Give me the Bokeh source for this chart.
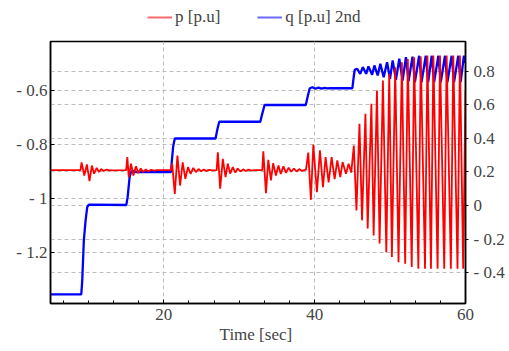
from bokeh.plotting import figure
from bokeh.layouts import column
from bokeh.models import Range1d, LinearAxis, FixedTicker, Grid, Legend, LegendItem
from bokeh.embed import file_html
from bokeh.resources import INLINE

# ---- data ----
time_p = [5.0, 8.95, 9.09, 9.45, 9.80, 10.14, 10.45, 10.75, 11.10, 11.40, 11.70, 12.00, 12.40, 12.80,
          15.00, 15.16, 15.35, 15.65, 15.96, 16.31, 16.62, 16.93, 17.25, 17.60, 17.90, 18.30, 18.70, 19.10,
          20.90, 21.10, 21.45, 21.80, 22.15, 22.50, 22.85, 23.20, 23.55, 23.90, 24.25, 24.60, 24.95, 25.30,
          25.65, 26.00, 26.40,
          27.00, 27.16, 27.47, 27.82, 28.18, 28.48, 28.80, 29.14, 29.48, 29.80, 30.15, 30.50, 30.85, 31.20,
          31.60, 32.00,
          33.05, 33.19, 33.54, 33.85, 34.20, 34.50, 34.86, 35.20, 35.50, 35.85, 36.20, 36.55, 36.90, 37.25,
          37.60, 37.95, 38.30,
          38.85, 39.15, 39.50, 39.82, 40.30, 40.70, 41.10, 41.45, 41.85, 42.25, 42.65, 43.00, 43.40, 43.70,
          44.15, 44.50, 44.85,
          45.19, 45.54, 45.94, 46.28, 46.73, 47.03, 47.52, 47.82, 48.26, 48.61, 49.05, 49.50, 49.89, 50.24,
          50.68, 51.12, 51.56, 52.00, 52.35, 52.87, 53.19, 53.75, 54.07, 54.63, 54.95, 55.42, 55.74, 56.30,
          56.62, 57.18, 57.50, 58.06, 58.38, 58.94, 59.26, 59.69, 60.00]
p_vals = [-0.895, -0.895, -0.866, -0.915, -0.874, -0.936, -0.878, -0.908, -0.887, -0.902, -0.891, -0.898, -0.893, -0.896,
          -0.895, -0.847, -0.921, -0.871, -0.915, -0.881, -0.906, -0.889, -0.902, -0.892, -0.899, -0.894, -0.897, -0.895,
          -0.895, -0.870, -0.983, -0.841, -0.952, -0.866, -0.927, -0.884, -0.909, -0.887, -0.902, -0.891, -0.899, -0.893,
          -0.898, -0.894, -0.896,
          -0.895, -0.829, -0.964, -0.853, -0.921, -0.871, -0.908, -0.884, -0.904, -0.889, -0.900, -0.892, -0.898, -0.893,
          -0.897, -0.895,
          -0.895, -0.825, -0.980, -0.857, -0.933, -0.869, -0.915, -0.878, -0.909, -0.881, -0.905, -0.886, -0.901, -0.889,
          -0.900, -0.891, -0.898,
          -0.893, -0.830, -1.005, -0.800, -0.977, -0.822, -0.958, -0.847, -0.940, -0.847, -0.928, -0.859, -0.921, -0.865,
          -0.908, -0.871, -0.904,
          -0.804, -1.044, -0.723, -1.081, -0.686, -1.111, -0.649, -1.137, -0.600, -1.167, -0.563, -1.199, -0.538, -1.217,
          -0.514, -1.236, -0.495, -1.242, -0.483, -1.254, -0.477, -1.260, -0.474, -1.260, -0.470, -1.260, -0.470, -1.260,
          -0.470, -1.260, -0.470, -1.260, -0.470, -1.260, -0.470, -1.260, -0.600]

time_q = [5.0, 9.05, 9.18, 9.39, 9.62, 9.84, 10.05, 15.02, 15.20, 15.33, 15.46, 15.65, 15.90, 16.30,
          20.95, 21.05, 21.23, 21.45, 26.86, 27.12, 27.35, 32.79, 33.06, 33.36, 38.82, 39.12, 39.35,
          39.70, 40.10, 40.50, 40.90, 41.30, 41.70, 42.10, 45.00, 45.18, 45.31,
          45.64, 46.04, 46.38, 46.83, 47.13, 47.62, 47.92, 48.36, 48.71, 49.15, 49.60, 49.99, 50.34, 50.78,
          51.22, 51.66, 52.10, 52.45, 52.97, 53.29, 53.85, 54.17, 54.73, 55.05, 55.52, 55.84, 56.40, 56.72,
          57.28, 57.60, 58.16, 58.48, 59.04, 59.36, 59.79, 60.00]
q_vals = [-0.530, -0.530, -0.448, -0.209, -0.090, -0.010, 0.005, 0.003, 0.050, 0.110, 0.170, 0.200, 0.207, 0.200,
          0.200, 0.260, 0.350, 0.400, 0.400, 0.460, 0.500, 0.500, 0.550, 0.600, 0.600, 0.660, 0.700,
          0.706, 0.697, 0.704, 0.698, 0.702, 0.699, 0.701, 0.700, 0.770, 0.810,
          0.816, 0.786, 0.826, 0.786, 0.830, 0.780, 0.836, 0.776, 0.846, 0.766, 0.855, 0.756, 0.866, 0.750,
          0.876, 0.746, 0.885, 0.742, 0.889, 0.736, 0.894, 0.736, 0.894, 0.736, 0.894, 0.736, 0.894, 0.736,
          0.894, 0.736, 0.894, 0.736, 0.894, 0.736, 0.894, 0.850]

series_names = ["p [p.u]", "q [p.u] 2nd"]
x_ticks = [20, 40, 60]
x_minor = [6.667, 10, 13.333, 16.667, 23.333, 26.667, 30, 33.333, 36.667, 43.333, 46.667, 50, 53.333, 56.667]
left_ticks = [-1.2, -1.0, -0.8, -0.6]
left_labels = ["- 1.2", "- 1", "- 0.8", "- 0.6"]
right_ticks = [-0.4, -0.2, 0.0, 0.2, 0.4, 0.6, 0.8]
right_labels = ["- 0.4", "- 0.2", "0", "0.2", "0.4", "0.6", "0.8"]

FONT = "Liberation Serif"
GRID = "#bdbdbd"
RED = "#ff0000"
BLUE = "#0000ff"

# ---- legend strip above the chart (its lines lie outside its own view) ----
lf = figure(width=507, height=33, output_backend="svg", toolbar_location=None,
            x_axis_type=None, y_axis_type=None, min_border=0,
            x_range=Range1d(-2, -1), y_range=Range1d(-2, -1))
lf.outline_line_color = None
lf.xgrid.visible = False
lf.ygrid.visible = False
lp = lf.line(time_p, p_vals, color="#ff6a6a", line_width=2)
lq = lf.line(time_q, q_vals, color="#6a6aff", line_width=2)
legend = Legend(items=[LegendItem(label=series_names[0], renderers=[lp]),
                       LegendItem(label=series_names[1], renderers=[lq])],
                orientation="horizontal", location=(97, 6),
                label_text_font=FONT, label_text_font_size="17px",
                glyph_width=25, glyph_height=16, label_standoff=3, spacing=37,
                padding=0, margin=0, border_line_alpha=0, background_fill_alpha=0)
lf.add_layout(legend)

# ---- main chart ----
p = figure(width=507, height=317, x_range=Range1d(4.97, 60.0), y_range=Range1d(-1.389, -0.4185),
           extra_y_ranges={"right": Range1d(-0.585, 0.979)},
           output_backend="svg", toolbar_location=None,
           min_border_left=50, min_border_right=39, min_border_top=8, min_border_bottom=47)
p.background_fill_color = "white"
p.outline_line_color = "black"
p.outline_line_width = 1.5

# bottom axis
xa = p.xaxis[0]
xa.ticker = FixedTicker(ticks=x_ticks, minor_ticks=x_minor)
xa.axis_label = "Time  [sec]"
xa.axis_label_text_font = FONT
xa.axis_label_text_font_size = "17px"
xa.axis_label_text_font_style = "normal"
xa.axis_label_standoff = 2
xa.major_label_text_font = FONT
xa.major_label_text_font_size = "17px"
xa.major_label_standoff = 5
xa.major_tick_in = 4
xa.major_tick_out = 0
xa.minor_tick_in = 3
xa.minor_tick_out = 0
xa.axis_line_width = 1.5

# left axis
ya = p.yaxis[0]
ya.ticker = FixedTicker(ticks=left_ticks)
ya.major_label_overrides = dict(zip(left_ticks, left_labels))
ya.major_label_text_font = FONT
ya.major_label_text_font_size = "17px"
ya.major_label_standoff = 3
ya.major_tick_in = 4
ya.major_tick_out = 0
ya.minor_tick_in = 0
ya.minor_tick_out = 0
ya.axis_line_width = 1.5

# right axis
ra = LinearAxis(y_range_name="right", ticker=FixedTicker(ticks=right_ticks))
ra.major_label_overrides = dict(zip(right_ticks, right_labels))
ra.major_label_text_font = FONT
ra.major_label_text_font_size = "17px"
ra.major_label_standoff = 5
ra.major_tick_in = 0
ra.major_tick_out = 3
ra.minor_tick_in = 0
ra.minor_tick_out = 0
ra.axis_line_width = 1.5
p.add_layout(ra, "right")

# grids
p.xgrid.ticker = FixedTicker(ticks=x_ticks)
p.xgrid.grid_line_color = GRID
p.xgrid.grid_line_dash = "4 3"
p.ygrid.ticker = FixedTicker(ticks=left_ticks)
p.ygrid.grid_line_color = GRID
p.ygrid.grid_line_dash = "4 3"
rg = Grid(dimension=1, ticker=FixedTicker(ticks=right_ticks), y_range_name="right",
          grid_line_color=GRID, grid_line_dash="4 3")
p.add_layout(rg)

# data lines
p.line(time_q, q_vals, color=BLUE, line_width=2.3, y_range_name="right")
p.line(time_p, p_vals, color=RED, line_width=1.8)

layout = column(lf, p, spacing=0)
open("out.html", "w").write(file_html(layout, INLINE))
